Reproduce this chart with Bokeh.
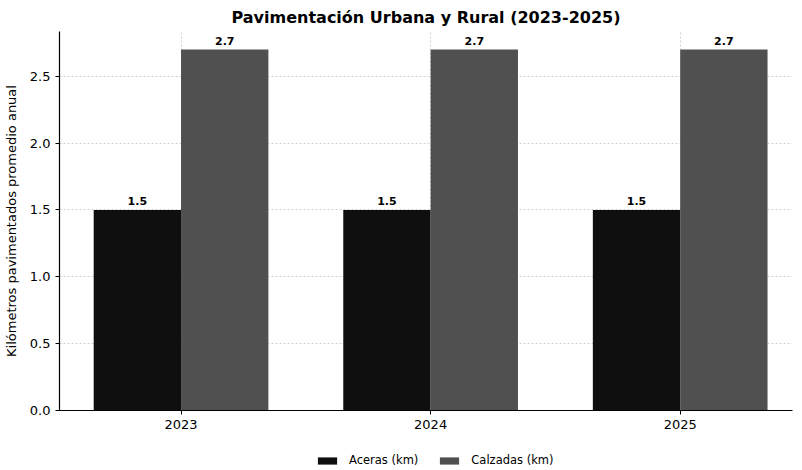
from bokeh.plotting import figure
from bokeh.layouts import column
from bokeh.models import ColumnDataSource, FixedTicker, NumeralTickFormatter, Legend, LegendItem, Range1d
from bokeh.core.properties import value
from bokeh.embed import file_html
from bokeh.resources import INLINE

years = ["2023", "2024", "2025"]
aceras = [1.5, 1.5, 1.5]
calzadas = [2.7, 2.7, 2.7]
series_names = ["Aceras (km)", "Calzadas (km)"]
y_ticks = [0.0, 0.5, 1.0, 1.5, 2.0, 2.5]

FONT = "DejaVu Sans"
C_ACERAS = "#0f0f0f"
C_CALZADAS = "#505050"
bar_w = 0.35
xs = list(range(len(years)))

src = ColumnDataSource(dict(
    x=xs,
    xa=[x - bar_w / 2 for x in xs],
    xc=[x + bar_w / 2 for x in xs],
    aceras=aceras,
    calzadas=calzadas,
    la=[f"{v:.1f}" for v in aceras],
    lc=[f"{v:.1f}" for v in calzadas],
))

p = figure(width=794, height=440, output_backend="svg", toolbar_location=None,
           x_range=Range1d(-0.487, 2.45), y_range=Range1d(0, 2.835),
           min_border_left=50, min_border_right=2, min_border_top=31, min_border_bottom=30)
p.outline_line_color = None
p.background_fill_color = "white"
p.border_fill_color = "white"

p.title.text = "Pavimentación Urbana y Rural (2023-2025)"
p.title.text_font = FONT
p.title.text_font_size = "16px"
p.title.text_font_style = "bold"
p.title.text_color = "black"
p.title.align = "center"
p.title.standoff = 9

ra = p.vbar(x="xa", top="aceras", width=bar_w, source=src, fill_color=C_ACERAS, line_color=None)
rc = p.vbar(x="xc", top="calzadas", width=bar_w, source=src, fill_color=C_CALZADAS, line_color=None)

p.text(x="xa", y="aceras", text="la", source=src, text_align="center", text_baseline="bottom",
       y_offset=-5, text_font=value(FONT), text_font_size="11px", text_font_style="bold", text_color="black")
p.text(x="xc", y="calzadas", text="lc", source=src, text_align="center", text_baseline="bottom",
       y_offset=-5, text_font=value(FONT), text_font_size="11px", text_font_style="bold", text_color="black")

p.xaxis.ticker = FixedTicker(ticks=xs)
p.xaxis.major_label_overrides = {i: y for i, y in enumerate(years)}
p.yaxis.ticker = FixedTicker(ticks=y_ticks)
p.yaxis.formatter = NumeralTickFormatter(format="0.0")
p.yaxis.axis_label = "Kilómetros pavimentados promedio anual"
for ax in (p.xaxis, p.yaxis):
    ax.axis_line_color = "black"
    ax.axis_line_width = 1.2
    ax.major_tick_line_color = "black"
    ax.major_tick_out = 4
    ax.major_tick_in = 0
    ax.minor_tick_line_color = None
    ax.major_label_text_font = FONT
    ax.major_label_text_font_size = "13px"
    ax.major_label_text_color = "black"
    ax.axis_label_text_font = FONT
    ax.axis_label_text_font_size = "13px"
    ax.axis_label_text_font_style = "normal"
    ax.axis_label_text_color = "black"
p.yaxis.axis_label_standoff = 8

p.xgrid.grid_line_color = "#c4c4c4"
p.ygrid.grid_line_color = "#c4c4c4"
p.xgrid.grid_line_dash = "2 2"
p.ygrid.grid_line_dash = "2 2"
p.xgrid.grid_line_width = 0.8
p.ygrid.grid_line_width = 0.8

# legend strip below the chart (its swatch glyphs sit outside the visible range)
lg = figure(width=794, height=28, output_backend="svg", toolbar_location=None,
            x_axis_location=None, y_axis_location=None,
            x_range=Range1d(0, 1), y_range=Range1d(0, 1),
            min_border=0)
lg.outline_line_color = None
lg.xgrid.visible = False
lg.ygrid.visible = False
hidden = ColumnDataSource(dict(x=[-10], top=[-10]))
da = lg.vbar(x="x", top="top", width=0.1, source=hidden, fill_color=C_ACERAS, line_color=None)
dc = lg.vbar(x="x", top="top", width=0.1, source=hidden, fill_color=C_CALZADAS, line_color=None)
legend = Legend(items=[LegendItem(label=series_names[0], renderers=[da]),
                       LegendItem(label=series_names[1], renderers=[dc])],
                orientation="horizontal", location=(256, 1),
                label_text_font=FONT, label_text_font_size="11.5px", label_text_color="black",
                glyph_width=24, glyph_height=9, label_standoff=10, spacing=19,
                border_line_color=None, background_fill_alpha=0, margin=0, padding=4)
lg.add_layout(legend, "center")

layout = column(p, lg, spacing=0)
open("out.html", "w").write(file_html(layout, INLINE))
